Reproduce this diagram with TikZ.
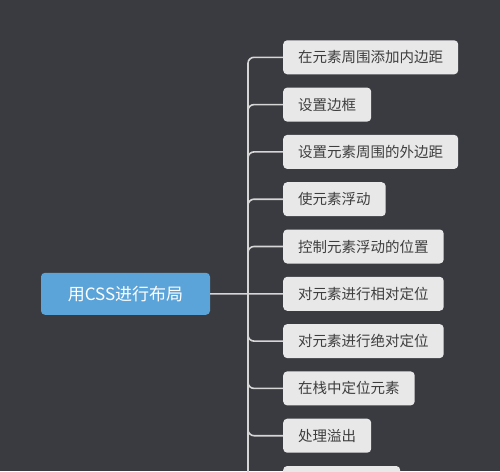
\documentclass[tikz,border=0pt]{standalone}
\usepackage{fontspec}
\setmainfont{Noto Sans CJK SC}
\usepackage{xcolor}
\usepackage{tikz}

\definecolor{bgdark}{HTML}{3A3B40}
\definecolor{rootblue}{HTML}{5BA4D9}
\definecolor{boxgray}{HTML}{E8E8E9}
\definecolor{linegray}{HTML}{D6D6D6}
\definecolor{textdark}{HTML}{3E3E3E}

\begin{document}
\begin{tikzpicture}[x=1pt,y=-1pt,
  topic/.style={fill=rootblue, rounded corners=4pt, minimum width=169pt,
    minimum height=42pt, inner sep=0pt, text=white,
    font=\fontsize{17}{19}\selectfont},
  item/.style={fill=boxgray, rounded corners=4pt, anchor=west,
    minimum height=34pt, inner xsep=15pt, inner ysep=0pt, text=textdark,
    font=\fontsize{14.5}{16}\selectfont},
  branch/.style={draw=linegray, line width=1.6pt, rounded corners=6pt}]
  \fill[bgdark] (0,0) rectangle (500,471);
  \useasboundingbox (0,0) rectangle (500,471);
  \clip (0,0) rectangle (500,471);
  % root topic
  \node[topic] (root) at (125.5,293.8) {用CSS进行布局};
  \coordinate (hub) at (248,293.8);
  % subtopics
  \foreach \i/\t in {1/在元素周围添加内边距,2/设置边框,3/设置元素周围的外边距,
      4/使元素浮动,5/控制元素浮动的位置,6/对元素进行相对定位,
      7/对元素进行绝对定位,8/在栈中定位元素,9/处理溢出} {
    \node[item] (b\i) at (283,{10+47.3*\i}) {\t};
  }
  \node[item, minimum width=117pt] (b10) at (283,483) {};
  % connectors
  \foreach \i in {1,...,5,7,8,9,10} {
    \draw[branch] (hub) |- (b\i.west);
  }
  \draw[branch] (root.east) -- (b6.west);
\end{tikzpicture}
\end{document}
